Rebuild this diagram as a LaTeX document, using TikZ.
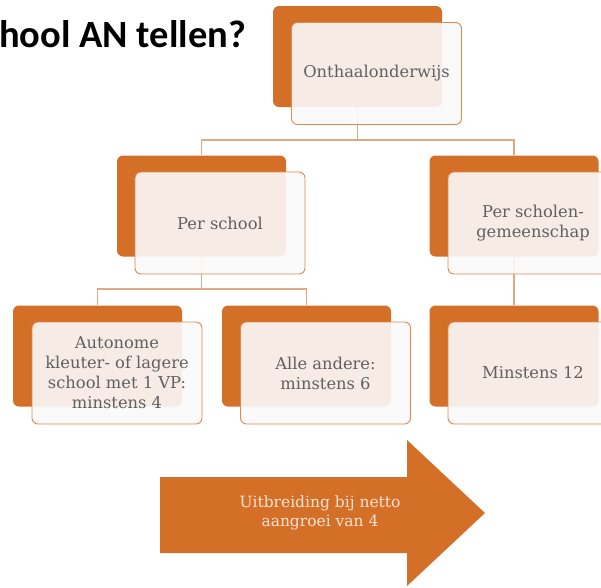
\documentclass[tikz,border=0pt]{standalone}
\usepackage{fontspec}
\setmainfont{DejaVu Serif}
\newfontfamily\titlefont{Carlito}
\definecolor{orangeD}{HTML}{D46F28}
\definecolor{orangeL}{HTML}{DE8A4C}
\definecolor{connC}{HTML}{E0A982}
\definecolor{textG}{HTML}{606060}
\definecolor{arrowT}{HTML}{FBE3D3}
\tikzset{
  dk/.style={fill=orangeD, rounded corners=6pt, minimum width=169pt, minimum height=101pt, inner sep=0pt},
  lt/.style={draw=orangeL, line width=0.9pt, fill=white!98!black, fill opacity=0.9, text opacity=1,
    rounded corners=6pt, minimum width=170pt, minimum height=102pt, inner sep=0pt, align=center,
    text=textG, font=\fontsize{16.3}{20}\selectfont},
  conn/.style={draw=connC, line width=1.1pt},
}
\begin{document}
\begin{tikzpicture}[x=1pt,y=-1pt]
\useasboundingbox (0,0) rectangle (601,587);
\clip (0,0) rectangle (601,587);
\node[anchor=base east, inner sep=0pt, font=\titlefont\bfseries\fontsize{38.5}{40}\selectfont] (title) at (246,47) {hool AN tellen?};
% dark boxes
\node[dk] (d0) at (357.5,56.5) {};
\node[dk] (d1) at (201.5,206) {};
\node[dk] (d2) at (514,206) {};
\node[dk] (d3) at (97.5,356) {};
\node[dk] (d4) at (306.5,356) {};
\node[dk] (d5) at (514,356) {};
% connectors
\coordinate (bus0) at (357.5,140);
\coordinate (bus1) at (201.5,289);
\draw[conn] (d0.south) -- (bus0) -| (d1.north);
\draw[conn] (bus0) -| (d2.north);
\draw[conn] (d1.south) -- (bus1) -| (d3.north);
\draw[conn] (bus1) -| (d4.north);
\draw[conn] (d2.south) -- (d5.north);
% light boxes
\node[lt] (l0) at (376.5,73.5) {Onthaalonderwijs};
\node[lt] (l1) at (220,223) {Per school};
\node[lt] (l2) at (533,223) {Per scholen-\\gemeenschap};
\node[lt] (l3) at (117,373) {Autonome\\kleuter- of lagere\\school met 1 VP:\\minstens 4};
\node[lt] (l4) at (325.5,373) {Alle andere:\\minstens 6};
\node[lt] (l5) at (533,373) {Minstens 12};
% arrow
\fill[orangeD] (160,477) -- (407,477) -- (407,440) -- (485,513) -- (407,586) -- (407,553) -- (160,553) -- cycle;
\node[align=center, text=arrowT, font=\fontsize{15.5}{19}\selectfont] (arr) at (320,513) {Uitbreiding bij netto\\aangroei van 4};
\end{tikzpicture}
\end{document}
